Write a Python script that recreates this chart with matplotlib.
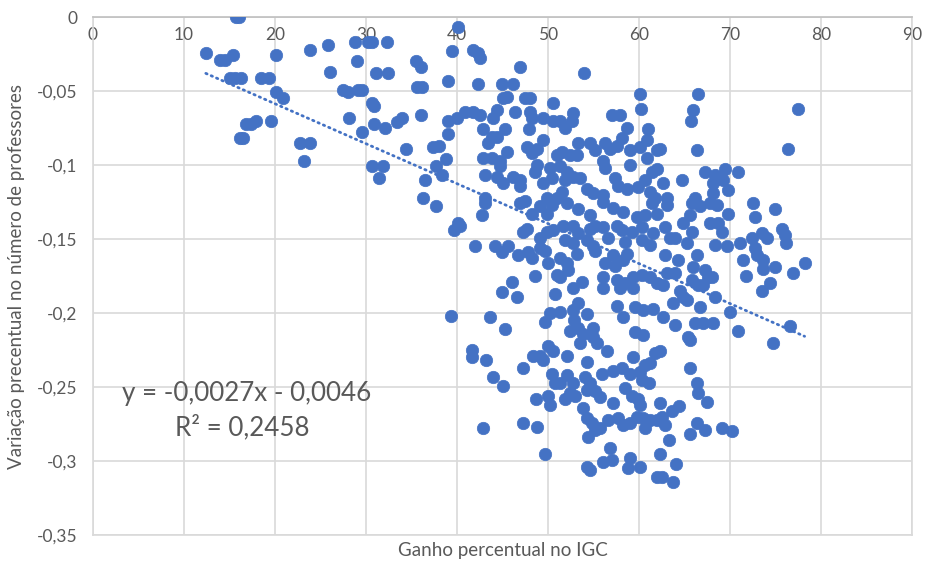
import numpy as np
import matplotlib
matplotlib.use("Agg")
import matplotlib.pyplot as plt

# Ganho percentual no IGC (x) vs variação percentual no número de professores (y)
x_left = [15.7, 16.0, 12.4, 14.0, 14.5, 15.4, 15.1, 15.6, 16.3, 18.5, 19.3, 20.1, 20.1, 20.9,
          16.8, 17.4, 17.9, 19.6, 16.2, 16.5, 22.8, 23.8, 23.2, 23.8, 25.8, 26.0,
          27.5, 28.0, 29.1, 29.6, 28.8, 29.0, 31.1, 32.4, 32.3, 30.2, 30.7, 30.7, 30.9,
          30.9, 32.1, 29.6, 28.1, 33.4, 34.0, 34.4, 30.7, 31.9, 31.4, 35.5, 36.0, 35.6,
          36.2, 36.0, 39.0, 39.5, 40.1, 39.0, 40.0, 39.0, 37.4, 38.0, 38.8, 37.7, 38.4,
          36.5, 36.3, 37.7, 39.7, 40.1, 39.3]
y_left = [0.000, 0.000, -0.024, -0.029, -0.029, -0.026, -0.041, -0.041, -0.041, -0.041, -0.041,
          -0.026, -0.051, -0.055, -0.072, -0.072, -0.070, -0.070, -0.082, -0.082, -0.085, -0.085,
          -0.097, -0.022, -0.019, -0.037, -0.049, -0.051, -0.049, -0.049, -0.017, -0.030, -0.038,
          -0.038, -0.017, -0.017, -0.017, -0.058, -0.060, -0.072, -0.075, -0.078, -0.068, -0.071,
          -0.068, -0.089, -0.101, -0.101, -0.109, -0.030, -0.034, -0.047, -0.047, -0.066, -0.043,
          -0.023, -0.007, -0.070, -0.068, -0.079, -0.088, -0.087, -0.096, -0.101, -0.107, -0.110,
          -0.122, -0.128, -0.144, -0.139, -0.202]

x_mid_a = [41.8, 42.3, 42.5, 46.9, 42.3, 44.9, 46.2, 45.1, 45.5, 47.5, 48.0, 40.9, 41.8, 42.5,
           44.4, 44.0, 46.4, 48.0, 48.2, 49.5, 50.5, 50.5, 42.9, 43.8, 44.4, 45.3, 47.9, 43.4,
           47.7, 49.5, 48.8, 48.2, 42.9, 43.8, 45.5, 44.7, 44.7, 51.0, 43.1, 44.4, 45.1, 46.2,
           46.9, 46.9, 48.6, 48.8, 49.5, 50.4, 50.2, 43.1, 47.5, 49.9, 51.0,
           43.1, 42.7, 40.3, 47.3, 47.7, 42.0, 44.2, 44.9, 45.6, 46.7, 47.8, 48.2, 49.1, 49.7,
           49.1, 49.9, 50.5, 50.0, 48.6, 46.0, 44.9, 46.6, 50.8, 51.0, 43.6, 45.3, 50.2, 49.7,
           46.9, 48.2, 49.1, 49.9, 50.4,
           41.6, 41.6, 43.2, 44.0, 45.1, 47.3, 48.4, 49.1, 49.5, 50.0, 50.5, 50.4, 50.8, 48.7,
           50.0, 50.2, 42.9, 47.3, 48.8, 49.7]
y_mid_a = [-0.022, -0.024, -0.028, -0.034, -0.045, -0.045, -0.045, -0.055, -0.054, -0.055, -0.055,
           -0.064, -0.064, -0.066, -0.063, -0.068, -0.064, -0.064, -0.068, -0.068, -0.070, -0.058,
           -0.076, -0.081, -0.081, -0.076, -0.076, -0.085, -0.088, -0.083, -0.089, -0.092, -0.095,
           -0.095, -0.091, -0.097, -0.101, -0.093, -0.107, -0.108, -0.112, -0.108, -0.110, -0.114,
           -0.105, -0.100, -0.112, -0.109, -0.102, -0.122, -0.124, -0.122, -0.122,
           -0.126, -0.134, -0.141, -0.145, -0.143, -0.155, -0.155, -0.159, -0.155, -0.161, -0.159,
           -0.163, -0.156, -0.158, -0.149, -0.145, -0.144, -0.166, -0.175, -0.179, -0.186, -0.189,
           -0.187, -0.174, -0.203, -0.211, -0.200, -0.206, -0.126, -0.133, -0.128, -0.133, -0.127,
           -0.225, -0.230, -0.232, -0.243, -0.249, -0.237, -0.229, -0.229, -0.232, -0.222, -0.226,
           -0.241, -0.247, -0.258, -0.256, -0.262, -0.278, -0.274, -0.277, -0.295]

x_mid_b = [54.0, 60.1, 60.2, 57.0, 57.9, 52.7, 52.6, 51.3, 51.9, 58.7, 61.0, 58.1, 60.9, 53.3,
           54.6, 55.2, 56.3, 56.8, 57.6, 59.0, 60.1, 62.0, 60.9, 51.5, 52.4, 53.2, 56.0, 56.3,
           59.0, 51.3, 52.1, 52.7, 53.5, 51.9, 57.4, 57.7, 58.7, 59.9, 60.7, 61.4, 62.0, 54.3,
           54.9, 56.0, 51.5, 61.2, 61.8,
           52.1, 53.3, 54.6, 56.0, 57.1, 58.2, 59.8, 60.7, 61.4, 62.0, 51.6, 52.7, 53.3, 54.6,
           55.2, 56.0, 57.6, 58.1, 59.2, 60.3, 61.5, 51.9, 52.7, 54.3, 54.9, 56.6, 58.5, 60.3,
           61.2, 53.2, 55.2, 57.1, 58.7, 58.2, 51.3, 52.1, 56.3, 57.4, 51.3, 52.2, 56.0, 57.6,
           58.5, 59.3, 60.3, 61.2, 62.0, 52.7, 53.7, 56.0, 57.9, 59.3, 57.6, 59.6, 60.4, 61.5,
           53.3, 52.7, 54.3, 58.2, 52.9, 52.4, 53.3, 54.9, 54.9, 53.8, 59.6, 60.4, 51.3]
y_mid_b = [-0.038, -0.052, -0.062, -0.066, -0.066, -0.065, -0.070, -0.070, -0.075, -0.075, -0.076,
           -0.082, -0.083, -0.085, -0.085, -0.090, -0.085, -0.089, -0.087, -0.090, -0.088, -0.090,
           -0.095, -0.091, -0.093, -0.093, -0.097, -0.102, -0.100, -0.101, -0.105, -0.108, -0.109,
           -0.110, -0.109, -0.114, -0.116, -0.115, -0.110, -0.105, -0.103, -0.116, -0.119, -0.120,
           -0.118, -0.118, -0.122,
           -0.126, -0.130, -0.134, -0.125, -0.129, -0.132, -0.135, -0.134, -0.126, -0.133, -0.141,
           -0.141, -0.146, -0.143, -0.141, -0.142, -0.141, -0.144, -0.145, -0.142, -0.146, -0.151,
           -0.153, -0.151, -0.155, -0.149, -0.152, -0.151, -0.154, -0.160, -0.158, -0.161, -0.160,
           -0.164, -0.163, -0.166, -0.166, -0.168, -0.176, -0.171, -0.176, -0.178, -0.180, -0.176,
           -0.174, -0.176, -0.180, -0.183, -0.179, -0.183, -0.183, -0.183, -0.195, -0.196, -0.198,
           -0.197, -0.193, -0.198, -0.201, -0.203, -0.205, -0.212, -0.210, -0.210, -0.216, -0.214,
           -0.213, -0.215, -0.199]

x_mid_c = [52.1, 53.5, 55.4, 56.5, 54.3, 59.3, 61.8, 52.1, 52.7, 51.3, 52.4, 51.9, 53.0, 55.9,
           57.1, 58.1, 59.0, 60.1, 60.7, 61.2, 60.3, 61.1, 54.1, 54.6, 54.3, 55.2, 55.7, 58.5,
           59.2, 59.9, 60.1, 57.1, 53.8, 54.3, 54.8, 55.2, 54.4, 55.7, 56.6, 57.7, 58.2, 59.0,
           59.8, 60.4, 61.2, 62.0, 60.7, 56.8, 56.0, 57.0, 59.0, 54.3, 54.6, 58.8, 60.1, 62.0]
y_mid_c = [-0.229, -0.220, -0.220, -0.226, -0.233, -0.230, -0.227, -0.242, -0.247, -0.247, -0.254,
           -0.258, -0.256, -0.241, -0.239, -0.237, -0.241, -0.240, -0.235, -0.234, -0.245, -0.247,
           -0.243, -0.247, -0.252, -0.253, -0.257, -0.251, -0.256, -0.258, -0.262, -0.261, -0.264,
           -0.271, -0.274, -0.279, -0.284, -0.278, -0.272, -0.271, -0.276, -0.274, -0.270, -0.271,
           -0.272, -0.272, -0.278, -0.291, -0.301, -0.299, -0.298, -0.304, -0.306, -0.305, -0.304,
           -0.311]

x_right = [66.5, 65.9, 65.7, 66.4, 62.3, 77.5, 76.4, 67.3, 68.4, 69.5, 70.9, 68.1, 69.2, 69.8,
           64.7, 62.6, 68.1, 66.2, 63.1, 72.5,
           74.9, 72.7, 69.8, 68.7, 67.8, 69.1, 71.1, 72.4, 73.5, 74.1, 75.7, 76.0, 76.2, 68.4,
           69.7, 72.7, 73.0, 71.4, 73.6, 73.6, 74.9, 78.2, 76.9, 71.8, 74.4, 73.5, 68.4, 70.0,
           76.6, 70.9, 74.7, 63.1, 65.8, 66.7, 67.8, 68.6, 65.6, 64.8, 65.8, 62.9, 63.4, 64.0,
           65.3, 66.4, 62.9, 64.3, 65.9, 63.1, 64.0, 67.3, 67.6, 68.0, 65.8, 66.5, 62.6, 64.5,
           64.8, 63.7, 66.7, 62.6, 64.0, 66.2, 67.0, 68.1, 65.4, 67.0, 65.3,
           65.6, 62.3, 65.6, 66.4, 66.5, 67.5, 62.3, 63.6, 64.4, 62.5, 62.9, 66.4, 67.3, 69.1,
           70.2, 65.6, 63.3, 62.3, 64.1, 62.5, 63.7]
y_right = [-0.052, -0.063, -0.070, -0.090, -0.089, -0.062, -0.089, -0.105, -0.107, -0.103, -0.105,
           -0.112, -0.110, -0.117, -0.110, -0.112, -0.119, -0.122, -0.122, -0.126,
           -0.130, -0.135, -0.133, -0.139, -0.139, -0.145, -0.153, -0.149, -0.146, -0.149, -0.143,
           -0.147, -0.153, -0.154, -0.155, -0.156, -0.161, -0.164, -0.164, -0.170, -0.169, -0.166,
           -0.173, -0.175, -0.180, -0.185, -0.189, -0.199, -0.209, -0.212, -0.220, -0.127, -0.126,
           -0.128, -0.126, -0.127, -0.134, -0.139, -0.145, -0.142, -0.149, -0.149, -0.153, -0.161,
           -0.161, -0.164, -0.169, -0.173, -0.173, -0.171, -0.176, -0.176, -0.178, -0.181, -0.181,
           -0.185, -0.189, -0.193, -0.196, -0.203, -0.208, -0.207, -0.207, -0.207, -0.216, -0.181,
           -0.191,
           -0.218, -0.226, -0.237, -0.247, -0.254, -0.260, -0.261, -0.266, -0.263, -0.270, -0.276,
           -0.274, -0.279, -0.278, -0.280, -0.282, -0.286, -0.295, -0.302, -0.311, -0.314]

# linear trend (as reported on the chart)
slope = -0.0027
intercept = -0.0046
r2 = 0.2458

x_vals = np.array(x_left + x_mid_a + x_mid_b + x_mid_c + x_right)
y_vals = np.array(y_left + y_mid_a + y_mid_b + y_mid_c + y_right)

x_ticks = np.arange(0, 91, 10)
y_ticks = np.round(np.arange(-0.35, 0.001, 0.05), 2)

blue = "#4472C4"
grid = "#D9D9D9"
text_col = "#595959"

plt.rcParams["font.family"] = ["Lato", "DejaVu Sans"]


def br_number(v):
    # decimal comma, no trailing zeros
    if abs(v) < 1e-9:
        return "0"
    return ("%g" % v).replace(".", ",")


fig = plt.figure(figsize=(9.27, 5.63), dpi=100)
ax = fig.add_axes([0.1003, 0.0497, 0.8835, 0.9201])

ax.set_xlim(0, 90)
ax.set_ylim(-0.35, 0)
ax.set_xticks(x_ticks)
ax.set_yticks(y_ticks)
ax.set_yticklabels([br_number(v) for v in y_ticks])
ax.set_xticklabels([str(v) for v in x_ticks])

ax.grid(True, color=grid, linewidth=1.2, zorder=0)
ax.set_axisbelow(True)
for side in ["left", "right", "bottom"]:
    ax.spines[side].set_color(grid)
    ax.spines[side].set_linewidth(1.2)
ax.spines["top"].set_color("#BFBFBF")
ax.spines["top"].set_linewidth(1.2)

ax.tick_params(axis="x", bottom=False, top=False, labelbottom=False, labeltop=True,
               pad=-22, labelsize=12.5, labelcolor=text_col)
ax.tick_params(axis="y", left=False, right=False, pad=8, labelsize=12.5, labelcolor=text_col)

# dotted trend line over the range of the data
xt = np.array([x_vals.min(), x_vals.max()])
ax.plot(xt, slope * xt + intercept, color=blue, linestyle=(0, (0.5, 1.6)), linewidth=2,
        dash_capstyle="round", zorder=2)

ax.scatter(x_vals, y_vals, s=80, color=blue, edgecolors=blue, linewidths=0.5, zorder=3)

eq_text = "y = %sx - %s" % (br_number(slope), br_number(abs(intercept)))
ax.text(3.2, -0.2545, eq_text, fontsize=18.7, color=text_col, va="center")
ax.text(9.0, -0.2775, "R² = %s" % br_number(r2), fontsize=18.7, color=text_col, va="center")

ax.set_xlabel("Ganho percentual no IGC", fontsize=13.5, color=text_col, labelpad=5)
ax.set_ylabel("Variação precentual no número de professores", fontsize=13.5, color=text_col,
              labelpad=8)

fig.savefig("out.png", dpi=100)
